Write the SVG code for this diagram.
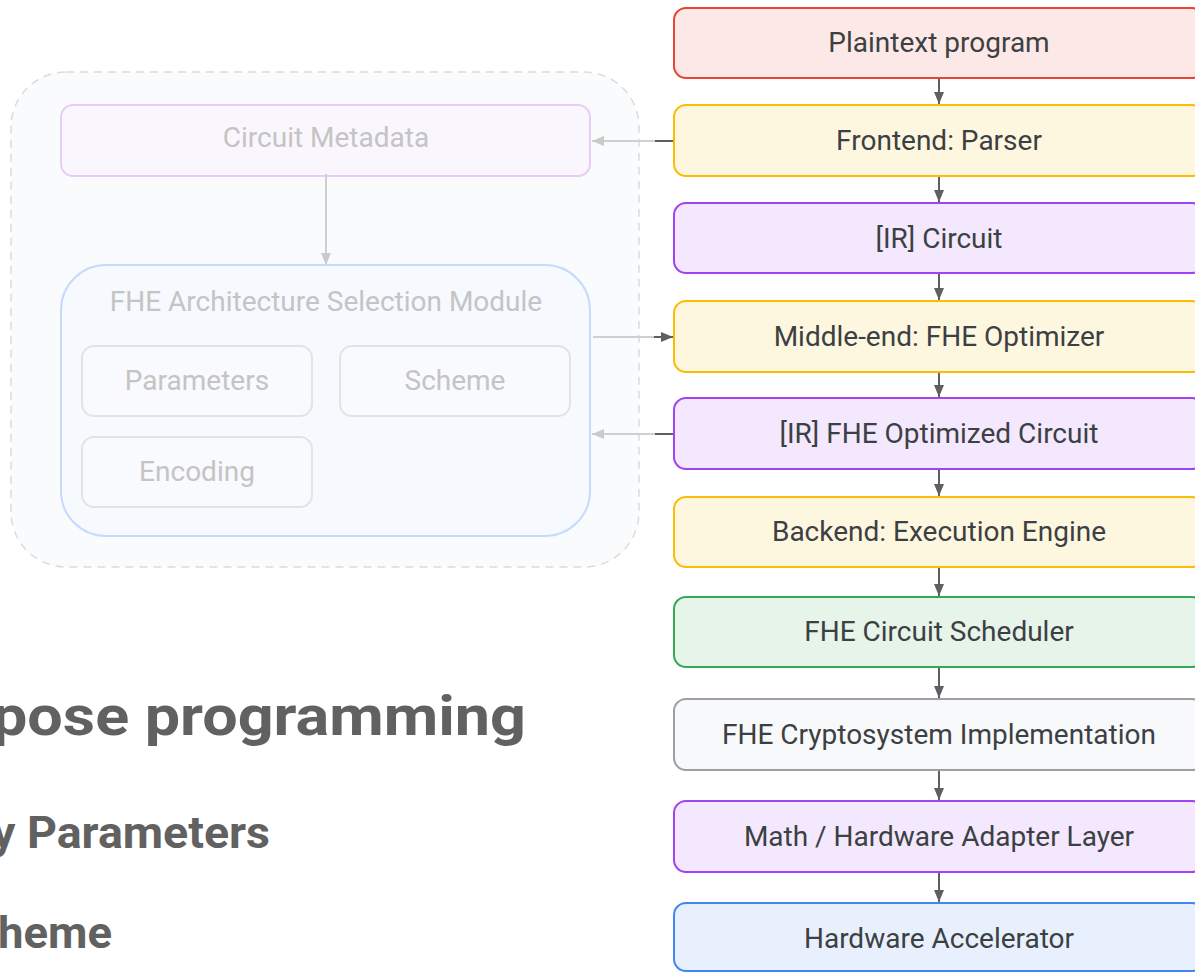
<svg xmlns="http://www.w3.org/2000/svg" width="1195" height="973" viewBox="0 0 1195 973">
<style>
.lbl{font-family:Roboto,"Liberation Sans",sans-serif;font-size:28px;fill:#3c4043;text-anchor:middle}
.flbl{font-family:Roboto,"Liberation Sans",sans-serif;font-size:28px;fill:#c4c4c4;text-anchor:middle}
.big{font-family:Roboto,"Liberation Sans",sans-serif;font-weight:bold;fill:#616161}
.red{fill:#fce8e6;stroke:#ea4335;stroke-width:2}
.yel{fill:#fef7e0;stroke:#fbbc04;stroke-width:2}
.pur{fill:#f3e8fd;stroke:#a142f4;stroke-width:2}
.grn{fill:#e6f4ea;stroke:#34a853;stroke-width:2}
.gry{fill:#f8f9fa;stroke:#9aa0a6;stroke-width:2}
.blu{fill:#e8f0fe;stroke:#4285f4;stroke-width:2}
.dk{stroke:#5f5f5f;stroke-width:2;fill:none}
.lt{stroke:#cfcfcf;stroke-width:2;fill:none}
.sub{fill:#f8fafd;stroke:#e3e3e3;stroke-width:2}
</style>
<defs>
<marker id="ad" markerUnits="userSpaceOnUse" markerWidth="12" markerHeight="10" refX="12" refY="5" orient="auto"><path d="M0,0 L12,5 L0,10 z" fill="#5f5f5f"/></marker>
<marker id="al" markerUnits="userSpaceOnUse" markerWidth="12" markerHeight="10" refX="12" refY="5" orient="auto"><path d="M0,0 L12,5 L0,10 z" fill="#cacaca"/></marker>
</defs>
<rect width="1195" height="973" fill="#ffffff"/>

<g id="bg-text">
<text class="big" x="-8" y="735" font-size="56" textLength="534" lengthAdjust="spacingAndGlyphs">pose programming</text>
<text class="big" x="-8" y="848" font-size="45" textLength="278" lengthAdjust="spacingAndGlyphs">y Parameters</text>
<text class="big" x="-2" y="948" font-size="45" textLength="114" lengthAdjust="spacingAndGlyphs">heme</text>
</g>

<g id="panel">
<rect x="11" y="72" width="628" height="495" rx="55" fill="#fafbfc" stroke="#dcdcdc" stroke-width="1.5" stroke-dasharray="8,6"/>
</g>
<g id="circuit-metadata">
<rect x="61" y="105" width="529" height="71" rx="12" fill="#faf6fe" stroke="#e8ccf8" stroke-width="2"/>
<text class="flbl" x="326" y="147">Circuit Metadata</text>
</g>
<g id="fhe-arch">
<rect x="61" y="265" width="529" height="271" rx="45" fill="#f6f9fe" stroke="#c6dafc" stroke-width="2"/>
<text class="flbl" x="326" y="311">FHE Architecture Selection Module</text>
</g>
<g id="parameters">
<rect x="82" y="346" width="230" height="70" rx="12" class="sub"/>
<text class="flbl" x="197" y="390">Parameters</text>
</g>
<g id="scheme">
<rect x="340" y="346" width="230" height="70" rx="12" class="sub"/>
<text class="flbl" x="455" y="390">Scheme</text>
</g>
<g id="encoding">
<rect x="82" y="437" width="230" height="70" rx="12" class="sub"/>
<text class="flbl" x="197" y="481">Encoding</text>
</g>

<g id="n1"><rect class="red" x="674" y="8" width="530" height="70" rx="12"/><text class="lbl" x="939" y="52">Plaintext program</text></g>
<g id="n2"><rect class="yel" x="674" y="105" width="530" height="71" rx="12"/><text class="lbl" x="939" y="150">Frontend: Parser</text></g>
<g id="n3"><rect class="pur" x="674" y="203" width="530" height="70" rx="12"/><text class="lbl" x="939" y="248">[IR] Circuit</text></g>
<g id="n4"><rect class="yel" x="674" y="301" width="530" height="71" rx="12"/><text class="lbl" x="939" y="346">Middle-end: FHE Optimizer</text></g>
<g id="n5"><rect class="pur" x="674" y="398" width="530" height="71" rx="12"/><text class="lbl" x="939" y="443">[IR] FHE Optimized Circuit</text></g>
<g id="n6"><rect class="yel" x="674" y="497" width="530" height="70" rx="12"/><text class="lbl" x="939" y="541">Backend: Execution Engine</text></g>
<g id="n7"><rect class="grn" x="674" y="597" width="530" height="70" rx="12"/><text class="lbl" x="939" y="641">FHE Circuit Scheduler</text></g>
<g id="n8"><rect class="gry" x="674" y="699" width="530" height="71" rx="12"/><text class="lbl" x="939" y="744">FHE Cryptosystem Implementation</text></g>
<g id="n9"><rect class="pur" x="674" y="801" width="530" height="71" rx="12"/><text class="lbl" x="939" y="846">Math / Hardware Adapter Layer</text></g>
<g id="n10"><rect class="blu" x="674" y="903" width="530" height="68" rx="12"/><text class="lbl" x="939" y="948">Hardware Accelerator</text></g>

<g id="connectors">
<line class="dk" x1="939" y1="79" x2="939" y2="104" marker-end="url(#ad)"/>
<line class="dk" x1="939" y1="177" x2="939" y2="202" marker-end="url(#ad)"/>
<line class="dk" x1="939" y1="274" x2="939" y2="300" marker-end="url(#ad)"/>
<line class="dk" x1="939" y1="373" x2="939" y2="397" marker-end="url(#ad)"/>
<line class="dk" x1="939" y1="470" x2="939" y2="496" marker-end="url(#ad)"/>
<line class="dk" x1="939" y1="568" x2="939" y2="596" marker-end="url(#ad)"/>
<line class="dk" x1="939" y1="668" x2="939" y2="698" marker-end="url(#ad)"/>
<line class="dk" x1="939" y1="771" x2="939" y2="800" marker-end="url(#ad)"/>
<line class="dk" x1="939" y1="873" x2="939" y2="902" marker-end="url(#ad)"/>
<line class="lt" x1="326" y1="174" x2="326" y2="265" marker-end="url(#al)"/>
<line class="dk" x1="673" y1="141" x2="654" y2="141"/>
<line class="lt" x1="655" y1="141" x2="592" y2="141" marker-end="url(#al)"/>
<line class="lt" x1="593" y1="337" x2="655" y2="337"/>
<line class="dk" x1="654" y1="337" x2="673" y2="337" marker-end="url(#ad)"/>
<line class="dk" x1="673" y1="434" x2="654" y2="434"/>
<line class="lt" x1="655" y1="434" x2="592" y2="434" marker-end="url(#al)"/>
</g>
</svg>
